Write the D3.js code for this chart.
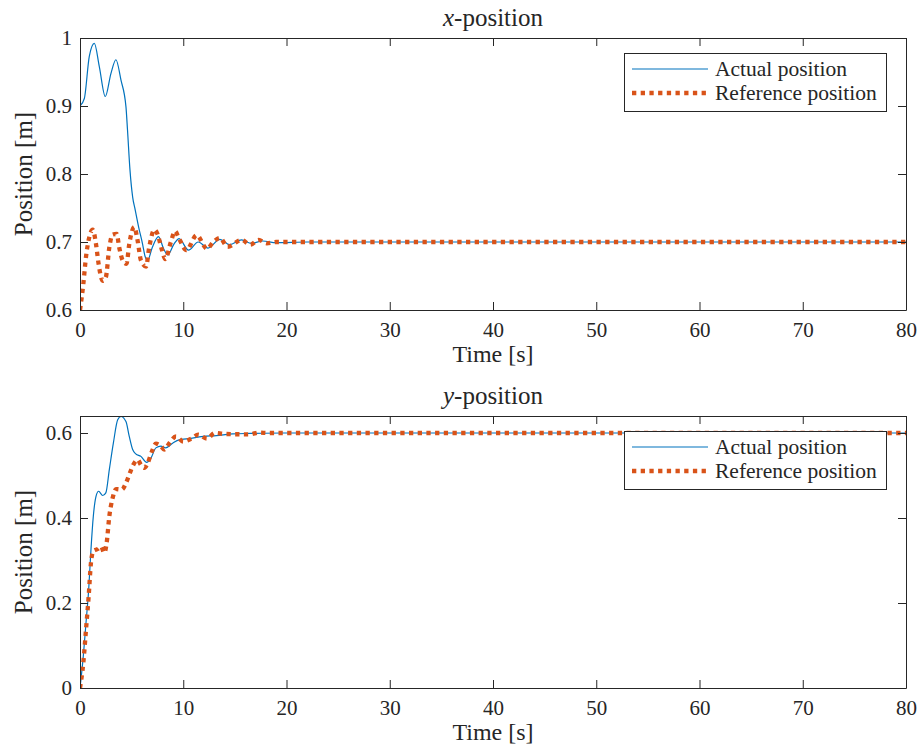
<!DOCTYPE html>
<html>
<head>
<meta charset="utf-8">
<script src="https://cdn.jsdelivr.net/npm/d3@7/dist/d3.min.js"></script>
<style>
	body { margin: 0; background: #fff; }
	svg { display: block; }
	text { font-family: "Liberation Serif", "Times New Roman", serif; fill: #262626; }
</style>
</head>
<body>
<div id="chart"></div>
<script>
// x-position, actual (blue) and reference (orange)
var xActualT = [0, 0.42, 0.9, 1.39, 1.87, 2.45, 3.0, 3.48, 3.97, 4.45, 4.6, 4.84, 5.1, 5.35, 5.68, 6.06, 6.3, 6.55, 7.0, 7.6, 8.1, 8.5, 9.1, 9.6, 10.5, 11.45, 12.4, 13.55, 14.5, 15.65, 16.6, 17.7, 19, 22, 80];
var xActualV = [0.9, 0.911, 0.973, 0.992, 0.958, 0.914, 0.948, 0.968, 0.938, 0.899, 0.865, 0.806, 0.766, 0.747, 0.722, 0.697, 0.679, 0.673, 0.692, 0.708, 0.69, 0.681, 0.697, 0.705, 0.688, 0.7, 0.691, 0.704, 0.696, 0.703, 0.698, 0.7015, 0.699, 0.7, 0.7];
var xRefT = [0, 0.32, 0.58, 0.9, 1.23, 1.55, 1.8, 2.2, 2.5, 2.84, 3.16, 3.55, 3.8, 4.13, 4.5, 4.77, 5.26, 5.58, 5.9, 6.4, 6.7, 7.2, 7.5, 7.94, 8.26, 8.8, 9.2, 9.6, 10.3, 11.3, 12.3, 12.9, 13.55, 14.3, 15.65, 16.5, 17.3, 18.1, 19, 80];
var xRefV = [0.6, 0.638, 0.678, 0.707, 0.718, 0.697, 0.668, 0.643, 0.648, 0.692, 0.711, 0.712, 0.692, 0.673, 0.668, 0.697, 0.722, 0.702, 0.673, 0.664, 0.692, 0.718, 0.712, 0.688, 0.675, 0.7, 0.716, 0.705, 0.688, 0.71, 0.69, 0.7, 0.706, 0.693, 0.703, 0.696, 0.703, 0.698, 0.7, 0.7];

// y-position, actual and reference
var yActualT = [0, 0.32, 0.58, 0.84, 1.06, 1.29, 1.55, 1.8, 2.2, 2.5, 2.84, 3.23, 3.65, 3.97, 4.45, 4.77, 5.1, 5.4, 5.9, 6.45, 6.87, 7.35, 7.84, 8.3, 8.97, 9.6, 10.3, 11.94, 13.2, 14.8, 16.5, 19.7, 80];
var yActualV = [0, 0.075, 0.153, 0.231, 0.325, 0.404, 0.451, 0.463, 0.453, 0.459, 0.514, 0.576, 0.631, 0.639, 0.627, 0.592, 0.561, 0.551, 0.545, 0.531, 0.541, 0.565, 0.569, 0.565, 0.576, 0.584, 0.586, 0.592, 0.594, 0.598, 0.599, 0.6, 0.6];
var yRefT = [0, 0.32, 0.58, 0.84, 1.06, 1.29, 1.71, 2.03, 2.35, 2.58, 2.84, 3.16, 3.48, 4.06, 4.45, 4.77, 5.16, 5.58, 5.9, 6.23, 6.55, 6.97, 7.35, 7.84, 8.16, 8.65, 9.3, 10.0, 10.8, 11.45, 12.3, 13.07, 13.9, 15.6, 16.5, 17.3, 18.3, 80];
var yRefV = [0, 0.059, 0.137, 0.216, 0.294, 0.322, 0.327, 0.333, 0.318, 0.341, 0.404, 0.447, 0.468, 0.467, 0.482, 0.502, 0.525, 0.537, 0.525, 0.518, 0.529, 0.557, 0.575, 0.569, 0.561, 0.576, 0.592, 0.58, 0.587, 0.596, 0.587, 0.6, 0.598, 0.597, 0.597, 0.601, 0.6, 0.6];

var timeTicks = [0, 10, 20, 30, 40, 50, 60, 70, 80];
var xPosTicks = [0.6, 0.7, 0.8, 0.9, 1];
var yPosTicks = [0, 0.2, 0.4, 0.6];
var legendLabels = ['Actual position', 'Reference position'];

var BLUE = '#0072BD';
var ORANGE = '#D95319';
var AXIS = '#262626';
var FONT = '"Liberation Serif", "Times New Roman", serif';

var width = 918, height = 753;

var svg = d3.select('#chart')
	.append('svg')
	.attr('width', width)
	.attr('height', height);

function zip(ts, vs) {
	return ts.map(function(t, i) { return {t: t, v: vs[i]}; });
}

function drawPanel(opts) {
	var left = 80, right = 906;
	var top = opts.top, bottom = opts.top + 272;

	var x = d3.scaleLinear().domain([0, 80]).range([left, right]);
	var y = d3.scaleLinear().domain(opts.yDomain).range([bottom, top]);

	var g = svg.append('g').attr('font-family', FONT);

	var clipId = 'clip-' + opts.id;
	svg.append('clipPath').attr('id', clipId)
		.append('rect')
		.attr('x', left).attr('y', top)
		.attr('width', right - left).attr('height', bottom - top);

	// series
	var line = d3.line()
		.x(function(d) { return x(d.t); })
		.y(function(d) { return y(d.v); })
		.curve(d3.curveMonotoneX);

	var lines = g.append('g').attr('clip-path', 'url(#' + clipId + ')');

	lines.append('path')
		.datum(zip(opts.actualT, opts.actualV))
		.attr('d', line)
		.attr('fill', 'none')
		.attr('stroke', BLUE)
		.attr('stroke-width', 1.2);

	lines.append('path')
		.datum(zip(opts.refT, opts.refV))
		.attr('d', line)
		.attr('fill', 'none')
		.attr('stroke', ORANGE)
		.attr('stroke-width', 4.3)
		.attr('stroke-dasharray', '4.3 4.4');

	// axes, ticks inward on all four sides
	var fmt = d3.format('~g');
	var axB = g.append('g').attr('transform', 'translate(0,' + bottom + ')')
		.call(d3.axisBottom(x).tickValues(timeTicks).tickSize(-8).tickSizeOuter(0).tickPadding(12).tickFormat(fmt));
	var axT = g.append('g').attr('transform', 'translate(0,' + top + ')')
		.call(d3.axisTop(x).tickValues(timeTicks).tickSize(-8).tickSizeOuter(0).tickFormat(''));
	var axL = g.append('g').attr('transform', 'translate(' + left + ',0)')
		.call(d3.axisLeft(y).tickValues(opts.yTicks).tickSize(-8).tickSizeOuter(0).tickPadding(8).tickFormat(fmt));
	var axR = g.append('g').attr('transform', 'translate(' + right + ',0)')
		.call(d3.axisRight(y).tickValues(opts.yTicks).tickSize(-8).tickSizeOuter(0).tickFormat(''));

	[axB, axT, axL, axR].forEach(function(a) {
		a.attr('font-family', FONT).attr('font-size', 21);
		a.selectAll('path.domain').attr('stroke', AXIS);
		a.selectAll('line').attr('stroke', AXIS);
		a.selectAll('text').attr('fill', AXIS);
	});

	// title
	var title = g.append('text')
		.attr('x', (left + right) / 2)
		.attr('y', top - 12)
		.attr('text-anchor', 'middle')
		.attr('font-size', 25);
	title.append('tspan').attr('font-style', 'italic').text(opts.varName);
	title.append('tspan').text('-position');

	// axis labels
	g.append('text')
		.attr('x', (left + right) / 2)
		.attr('y', bottom + 52)
		.attr('text-anchor', 'middle')
		.attr('font-size', 24)
		.text('Time [s]');

	g.append('text')
		.attr('transform', 'translate(32,' + ((top + bottom) / 2) + ') rotate(-90)')
		.attr('text-anchor', 'middle')
		.attr('font-size', 25)
		.text('Position [m]');

	// legend
	var lg = g.append('g').attr('transform', 'translate(624,' + opts.legendTop + ')');
	lg.append('rect')
		.attr('x', 0.5).attr('y', 0.5)
		.attr('width', 262).attr('height', 58)
		.attr('fill', '#fff')
		.attr('stroke', AXIS)
		.attr('stroke-width', 1);

	var styles = [
		{color: BLUE, w: 1.2, dash: null},
		{color: ORANGE, w: 4.3, dash: '4.3 4.4'}
	];
	legendLabels.forEach(function(label, i) {
		var cy = 16 + i * 24;
		lg.append('line')
			.attr('x1', 8).attr('x2', 84)
			.attr('y1', cy).attr('y2', cy)
			.attr('stroke', styles[i].color)
			.attr('stroke-width', styles[i].w)
			.attr('stroke-dasharray', styles[i].dash);
		lg.append('text')
			.attr('x', 91)
			.attr('y', cy + 7)
			.attr('font-size', 21.5)
			.text(label);
	});
}

drawPanel({
	id: 'x', varName: 'x', top: 38, yDomain: [0.6, 1], yTicks: xPosTicks,
	actualT: xActualT, actualV: xActualV, refT: xRefT, refV: xRefV,
	legendTop: 53
});

drawPanel({
	id: 'y', varName: 'y', top: 416, yDomain: [0, 0.64], yTicks: yPosTicks,
	actualT: yActualT, actualV: yActualV, refT: yRefT, refV: yRefV,
	legendTop: 431
});
</script>
</body>
</html>
